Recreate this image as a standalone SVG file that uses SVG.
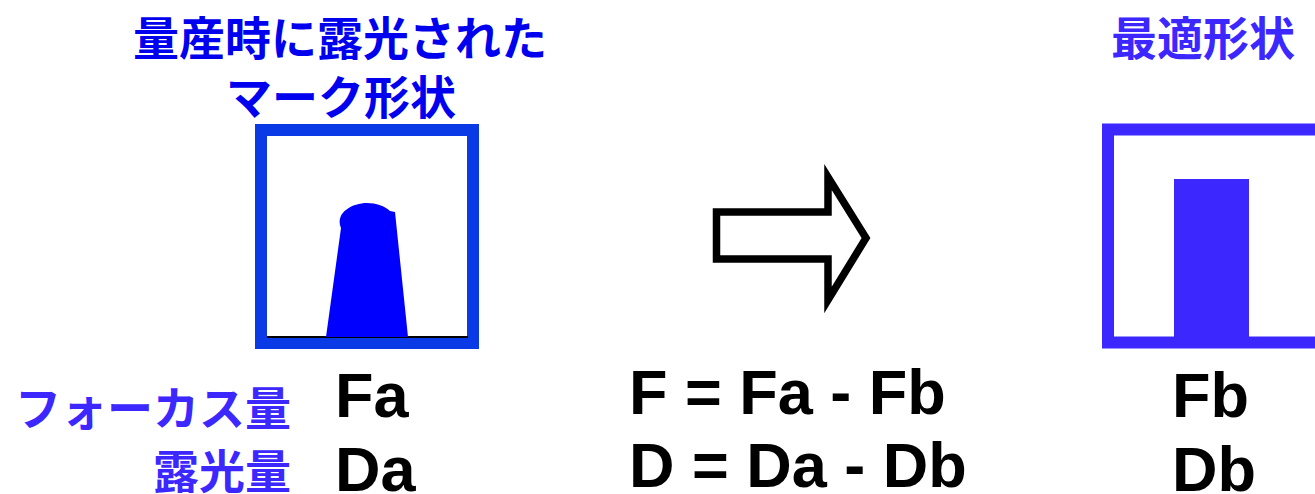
<svg xmlns="http://www.w3.org/2000/svg" width="1315" height="494" viewBox="0 0 1315 494">
<style>
.jp{font-family:"Noto Sans CJK JP","Noto Sans CJK SC",sans-serif;font-weight:bold;font-size:46px}
.lat{font-family:"Liberation Sans",Arial,sans-serif;font-weight:bold;font-size:63px;fill:#000}
.b1{fill:#0000ee}
.b2{fill:#3c28ff}
</style>
<rect width="1315" height="494" fill="#fff"/>
<g id="title-left">
<text class="jp b1" x="340" y="55" text-anchor="middle">量産時に露光された</text>
<text class="jp b1" x="341" y="114" text-anchor="middle">マーク形状</text>
</g>
<g id="title-right">
<text class="jp b2" x="1111" y="55">最適形状</text>
</g>
<g id="box-left">
<rect x="261" y="130" width="212" height="213" fill="#fff" stroke="#0a3ae6" stroke-width="12"/>
<line x1="267" y1="337" x2="468" y2="337" stroke="#000" stroke-width="2"/>
<path d="M326,337 L341,228 C338,222 340,214 346,210 C352,205 360,203 367,203 C376,203 385,206 390,211 L395,212 L408,337 Z" fill="#0000ff"/>
</g>
<g id="box-right">
<rect x="1108" y="129.5" width="240" height="213" fill="#fff" stroke="#3c28ff" stroke-width="12"/>
<rect x="1174" y="179" width="75" height="160" fill="#3c28ff"/>
</g>
<g id="connectors">
<polygon points="716.5,212 828,212 828,177 866,238 828,300 828,259 716.5,259" fill="#fff" stroke="#000" stroke-width="7.5" stroke-miterlimit="10"/>
</g>
<g id="labels-left">
<text class="jp b2" x="291" y="425" text-anchor="end">フォーカス量</text>
<text class="jp b2" x="291" y="488" text-anchor="end">露光量</text>
</g>
<g id="values-a">
<text class="lat" x="335" y="417">Fa</text>
<text class="lat" x="335" y="491">Da</text>
</g>
<g id="formulas">
<text class="lat" x="629" y="414">F = Fa - Fb</text>
<text class="lat" x="629" y="487">D = Da - Db</text>
</g>
<g id="values-b">
<text class="lat" x="1172" y="417">Fb</text>
<text class="lat" x="1172" y="491">Db</text>
</g>
</svg>
